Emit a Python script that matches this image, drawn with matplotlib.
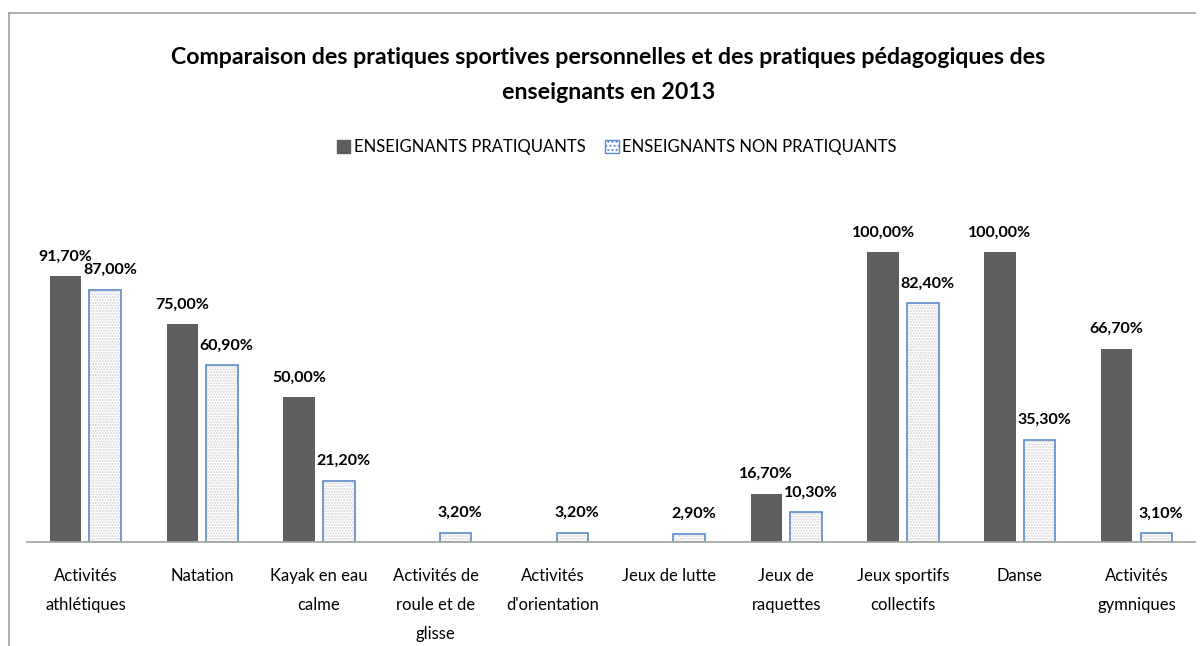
import numpy as np
import matplotlib
matplotlib.use("Agg")
import matplotlib.pyplot as plt
from matplotlib.patches import Patch
from matplotlib.lines import Line2D

plt.rcParams['font.family'] = ['Lato', 'DejaVu Sans']

categories = ["Activités\nathlétiques", "Natation", "Kayak en eau\ncalme",
              "Activités de\nroule et de\nglisse", "Activités\nd'orientation",
              "Jeux de lutte", "Jeux de\nraquettes", "Jeux sportifs\ncollectifs",
              "Danse", "Activités\ngymniques"]
pratiquants = [91.7, 75.0, 50.0, 0.0, 0.0, 0.0, 16.7, 100.0, 100.0, 66.7]
non_pratiquants = [87.0, 60.9, 21.2, 3.2, 3.2, 2.9, 10.3, 82.4, 35.3, 3.1]
series_names = ["ENSEIGNANTS PRATIQUANTS", "ENSEIGNANTS NON PRATIQUANTS"]
title = ("Comparaison des pratiques sportives personnelles et des pratiques pédagogiques des\n"
         "enseignants en 2013")

DARK = '#5F5F5F'
BLUE = '#5B8BCB'
HATCH_GRAY = '#D2D2D2'


def fmt(v):
    return ("%.2f%%" % v).replace('.', ',')


fig = plt.figure(figsize=(12, 6.46), dpi=100)
ax = fig.add_axes([0.0225, 0.161, 0.9733, 0.5387])

x = np.arange(len(categories))
w = 0.27
off = 0.17

ax.bar(x - off, pratiquants, w, color=DARK, linewidth=0)
# dotted fill, then blue outline on top
ax.bar(x + off, non_pratiquants, w, color='white', hatch='......',
       edgecolor=HATCH_GRAY, linewidth=0)
ax.bar(x + off, non_pratiquants, w, fill=False, edgecolor=BLUE, linewidth=1.2)

for xi, v in zip(x - off, pratiquants):
    if v > 0:
        ax.annotate(fmt(v), (xi, v), xytext=(0, 9), textcoords='offset points',
                    ha='center', va='bottom', fontsize=11.5, fontweight='bold')
for xi, v in zip(x + off, non_pratiquants):
    if v > 0:
        ax.annotate(fmt(v), (xi + 0.04, v), xytext=(0, 9), textcoords='offset points',
                    ha='center', va='bottom', fontsize=11.5, fontweight='bold')

ax.set_xlim(-0.5, len(categories) - 0.5)
ax.set_ylim(0, 120)
ax.set_yticks([])
ax.set_xticks(x)
ax.set_xticklabels(categories, fontsize=12, linespacing=2.0, va='top')
ax.tick_params(axis='x', length=0, pad=19)
for s in ['top', 'right', 'left']:
    ax.spines[s].set_visible(False)
ax.spines['bottom'].set_color('#A6A6A6')
ax.spines['bottom'].set_linewidth(1.3)

fig.text(0.507, 0.884, title, ha='center', va='center', fontsize=16.7,
         fontweight='bold', linespacing=1.8)

handles = [Patch(facecolor=DARK, edgecolor=DARK),
           Patch(facecolor='white', edgecolor=BLUE, hatch='....')]
fig.legend(handles, series_names, loc='center', bbox_to_anchor=(0.514, 0.7724),
           ncol=2, frameon=False, fontsize=12, handlelength=0.8, handleheight=0.8,
           handletextpad=0.2, columnspacing=1.2)

# chart border (top and left visible)
fig.add_artist(Line2D([9 / 1200, 1195 / 1200], [1 - 13 / 646, 1 - 13 / 646],
                      color='#A0A0A0', linewidth=1.2))
fig.add_artist(Line2D([9 / 1200, 9 / 1200], [1 - 13 / 646, 0],
                      color='#A0A0A0', linewidth=1.2))

fig.savefig('out.png', dpi=100)
